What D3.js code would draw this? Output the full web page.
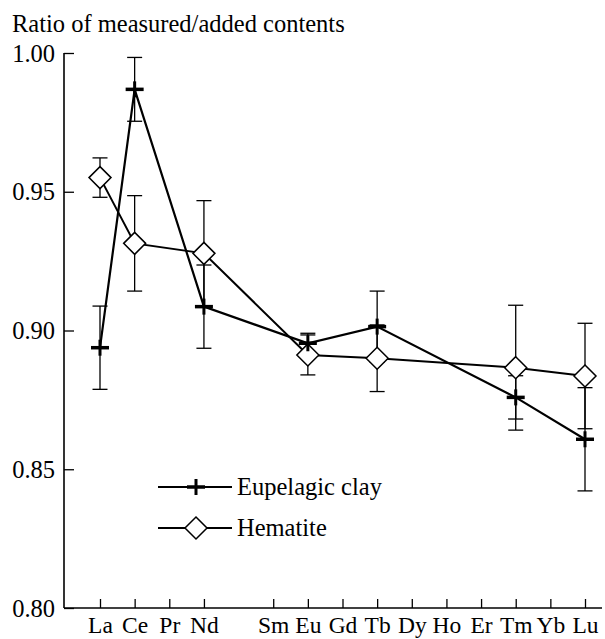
<!DOCTYPE html>
<html>
<head>
<meta charset="utf-8">
<script src="https://cdn.jsdelivr.net/npm/d3@7"></script>
<style>
  html, body { margin: 0; padding: 0; background: #fff; }
  svg { display: block; }
  svg text { font-family: "Liberation Serif", "Tinos", "Times New Roman", Times, "DejaVu Serif", serif !important; fill: #000; }
</style>
</head>
<body>
<svg id="chart" width="605" height="639" font-family="Liberation Serif, Times New Roman, serif"></svg>
<script>
// ---- data ----
const elements = ["La","Ce","Pr","Nd","Pm","Sm","Eu","Gd","Tb","Dy","Ho","Er","Tm","Yb","Lu"];
const tickElements = ["La","Ce","Pr","Nd","Sm","Eu","Gd","Tb","Dy","Ho","Er","Tm","Yb","Lu"];
const measuredElements = ["La","Ce","Nd","Eu","Tb","Tm","Lu"];
const clayValues = [0.8938, 0.9869, 0.9086, 0.8954, 0.9014, 0.8759, 0.8608];
const clayErrors = [0.0150, 0.0115, 0.0150, 0.0036, 0.0128, 0.0078, 0.0186];
const hematiteValues = [0.9551, 0.9314, 0.9278, 0.8912, 0.8900, 0.8866, 0.8836];
const hematiteErrors = [0.0071, 0.0172, 0.0190, 0.0072, 0.0120, 0.0225, 0.0190];
const yTicks = [0.80, 0.85, 0.90, 0.95, 1.00];
const seriesNames = ["Eupelagic clay", "Hematite"];
const yTitle = "Ratio of measured/added contents";

// ---- layout ----
const svg = d3.select("#chart");
const axisLeftX = 64, axisRightX = 602;
const x = d3.scalePoint().domain(elements).range([100, 585]);
const y = d3.scaleLinear().domain([0.80, 1.00]).range([608, 53]);
const fontSize = 24.5;
const serif = "'Liberation Serif', 'Tinos', 'Times New Roman', Times, 'DejaVu Serif', serif";

// y axis
const yAxis = svg.append("g")
  .attr("transform", `translate(${axisLeftX},0)`)
  .call(d3.axisLeft(y).tickValues(yTicks).tickFormat(d3.format(".2f"))
        .tickSize(-10).tickSizeOuter(0).tickPadding(9));
yAxis.attr("font-family", null).attr("font-size", null);
yAxis.select(".domain").remove();
yAxis.selectAll(".tick line").attr("stroke", "#000").attr("stroke-width", 1.3);
yAxis.selectAll(".tick text").attr("font-size", fontSize).attr("dy", "0.33em")
  .style("font-family", serif);
yAxis.append("line").attr("x1", 0).attr("x2", 0)
  .attr("y1", y(1.00)).attr("y2", y(0.80)).attr("stroke", "#000").attr("stroke-width", 1.6);

// x axis
const xAxis = svg.append("g")
  .attr("transform", `translate(0,${y(0.80)})`)
  .call(d3.axisBottom(x).tickValues(tickElements).tickSize(-9).tickSizeOuter(0).tickPadding(12));
xAxis.attr("font-family", null).attr("font-size", null);
xAxis.select(".domain").remove();
xAxis.selectAll(".tick line").attr("stroke", "#000").attr("stroke-width", 1.3);
xAxis.selectAll(".tick text").attr("font-size", 23.5).attr("y", 25).attr("dy", null)
  .style("font-family", serif);
xAxis.append("line").attr("x1", axisLeftX).attr("x2", axisRightX)
  .attr("y1", 0).attr("y2", 0).attr("stroke", "#000").attr("stroke-width", 1.6);

// title
svg.append("text").attr("x", 12).attr("y", 32).attr("font-size", 24.5)
  .style("font-family", serif).text(yTitle);

// series
const clay = measuredElements.map((e, i) => ({e, v: clayValues[i], err: clayErrors[i]}));
const hem = measuredElements.map((e, i) => ({e, v: hematiteValues[i], err: hematiteErrors[i]}));

const line = d3.line().x(d => x(d.e)).y(d => y(d.v));
svg.append("path").datum(hem).attr("d", line).attr("fill", "none")
  .attr("stroke", "#000").attr("stroke-width", 2);
svg.append("path").datum(clay).attr("d", line).attr("fill", "none")
  .attr("stroke", "#000").attr("stroke-width", 2.2);

function errorBars(data) {
  const g = svg.append("g").attr("stroke", "#000").attr("stroke-width", 1.3);
  data.forEach(d => {
    const cx = x(d.e);
    g.append("line").attr("x1", cx).attr("x2", cx).attr("y1", y(d.v + d.err)).attr("y2", y(d.v - d.err));
    g.append("line").attr("x1", cx - 7.5).attr("x2", cx + 7.5).attr("y1", y(d.v + d.err)).attr("y2", y(d.v + d.err));
    g.append("line").attr("x1", cx - 7.5).attr("x2", cx + 7.5).attr("y1", y(d.v - d.err)).attr("y2", y(d.v - d.err));
  });
}
errorBars(hem);
errorBars(clay);

function diamond(g, cx, cy) {
  const r = 11;
  g.append("path").attr("d", `M${cx},${cy - r}L${cx + r},${cy}L${cx},${cy + r}L${cx - r},${cy}Z`)
    .attr("fill", "#fff").attr("stroke", "#000").attr("stroke-width", 1.5);
}
function plus(g, cx, cy) {
  g.append("line").attr("x1", cx - 9).attr("x2", cx + 9).attr("y1", cy).attr("y2", cy)
    .attr("stroke", "#000").attr("stroke-width", 3.5);
  g.append("line").attr("x1", cx).attr("x2", cx).attr("y1", cy - 8).attr("y2", cy + 8)
    .attr("stroke", "#000").attr("stroke-width", 3);
}
const mk = svg.append("g");
hem.forEach(d => diamond(mk, x(d.e), y(d.v)));
clay.forEach(d => plus(mk, x(d.e), y(d.v)));

// legend
const lg = svg.append("g");
const legY = [487, 528];
lg.append("line").attr("x1", 158).attr("x2", 232).attr("y1", legY[0]).attr("y2", legY[0])
  .attr("stroke", "#000").attr("stroke-width", 2);
plus(lg, 196, legY[0]);
lg.append("line").attr("x1", 158).attr("x2", 232).attr("y1", legY[1]).attr("y2", legY[1])
  .attr("stroke", "#000").attr("stroke-width", 2);
diamond(lg, 196, legY[1]);
lg.selectAll("text.leg").data(seriesNames).enter().append("text")
  .attr("class", "leg").attr("x", 237).attr("y", (d, i) => legY[i] + 7.5)
  .attr("font-size", fontSize).style("font-family", serif).text(d => d);
</script>
</body>
</html>
